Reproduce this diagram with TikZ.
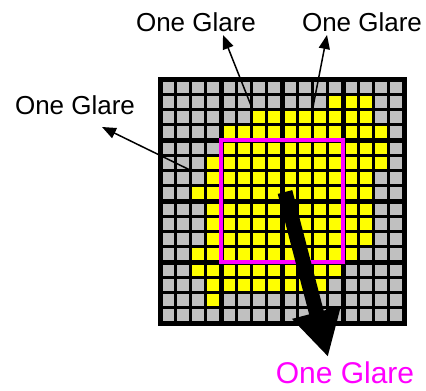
\documentclass[tikz,border=0pt]{standalone}
\usepackage{fontspec}
\setmainfont{Liberation Sans}
\usepackage{xcolor}
\definecolor{glareYellow}{HTML}{FFFF00}
\definecolor{cellGray}{HTML}{C0C0C0}
\definecolor{glareMagenta}{HTML}{FF00FF}
\usepackage{tikz}
\usetikzlibrary{arrows.meta}

\begin{document}
\begin{tikzpicture}[x=1pt,y=-1pt,>={Triangle[length=14pt,width=11pt]},
    glarelabel/.style={font=\fontsize{26}{30}\selectfont, inner sep=0pt}]
  \useasboundingbox (0,0) rectangle (426,391);
  % ---- pixel grid: 16 x 16 cells ----
  \begin{scope}[shift={(160,79)},x=15.25pt,y=-15.25pt]
    \fill[cellGray] (0,0) rectangle (16,16);
    \foreach \r/\a/\b in {1/11/13, 2/6/13, 3/4/14, 4/4/14, 5/3/14, 6/3/13, 7/2/13,
        8/3/13, 9/3/13, 10/3/13, 11/2/12, 12/2/11, 13/3/10, 14/3/3} {
      \fill[glareYellow] (\a,\r) rectangle (\b+1,\r+1);
    }
    \foreach \i in {1,...,15} {
      \draw[line width=3pt] (\i,0) -- (\i,16);
      \draw[line width=3pt] (0,\i) -- (16,\i);
    }
    \foreach \i in {4,8,12} {
      \draw[line width=5pt] (\i,0) -- (\i,16);
      \draw[line width=5pt] (0,\i) -- (16,\i);
    }
    \draw[line width=5pt] (0,0) rectangle (16,16);
    % ---- window ----
    \draw[glareMagenta, line width=4.5pt] (4,4) rectangle (12,12);
  \end{scope}
  % ---- labels ----
  \node[glarelabel] (glareTop1) at (196,22) {One Glare};
  \node[glarelabel] (glareTop2) at (362,22) {One Glare};
  \node[glarelabel] (glareLeft) at (75,105) {One Glare};
  \node[glarelabel, glareMagenta, font=\fontsize{30}{34}\selectfont] (glareBig) at (345,373) {One Glare};
  % ---- arrows ----
  \coordinate (srcTop1) at (252,108);
  \coordinate (tipTop1) at (223,35);
  \coordinate (srcTop2) at (313,107);
  \coordinate (tipTop2) at (327,35);
  \coordinate (srcLeft) at (190,170);
  \coordinate (tipLeft) at (102,127);
  \draw[->, line width=1.5pt] (srcTop1) -- (tipTop1);
  \draw[->, line width=1.5pt] (srcTop2) -- (tipTop2);
  \draw[->, line width=1.5pt] (srcLeft) -- (tipLeft);
  \coordinate (bigTail) at (285,192);
  \coordinate (bigTip) at (328,357);
  \draw[-{Triangle[length=46pt,width=47pt]}, line width=15pt] (bigTail) -- (bigTip);
\end{tikzpicture}
\end{document}
